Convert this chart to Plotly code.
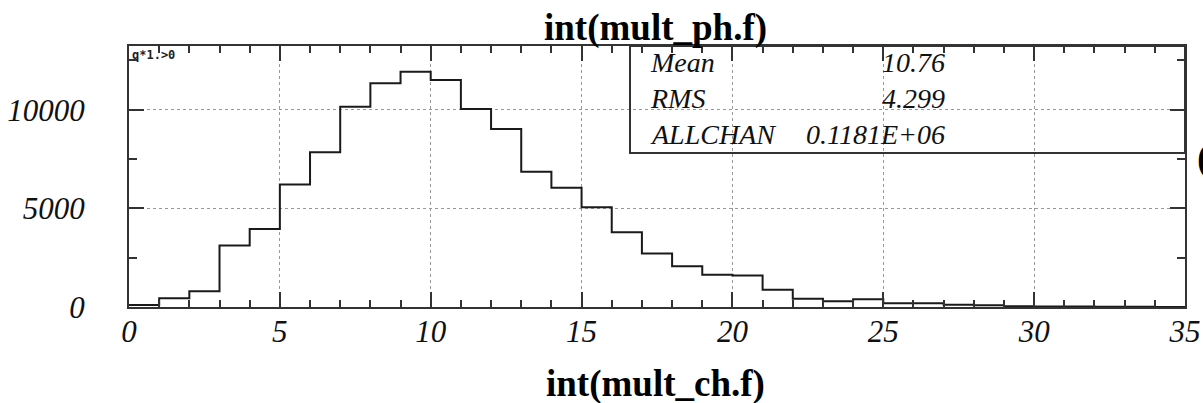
import plotly.graph_objects as go

# ---- data ----
bin_edges = list(range(0, 36))
counts = [100, 440, 800, 3120, 3960, 6210, 7840, 10150, 11340, 11930,
          11510, 10040, 9020, 6850, 6040, 5050, 3790, 2710, 2070, 1640,
          1600, 880, 420, 290, 390, 190, 190, 120, 85, 40,
          30, 20, 15, 10, 5]
x_ticks = [0, 5, 10, 15, 20, 25, 30, 35]
y_ticks = [0, 5000, 10000]
stat_names = ["Mean", "RMS", "ALLCHAN"]
stat_values = ["10.76", "4.299", "0.1181E+06"]
title_text = "int(mult_ph.f)"
xtitle_text = "int(mult_ch.f)"
cut_text = "q*1.>0"
edge_glyph = "("

# ---- geometry (page pixels) ----
PW, PH = 1203, 403
L, R, T, B = 129, 1185, 46, 306.7
XMAX, YMAX = 35, 13230
def px(x):
    return (x - L) / (R - L)
def py(y):
    return (B - y) / (B - T)

step_y = counts + [counts[-1]]

fig = go.Figure()
fig.add_trace(go.Scatter(
    x=bin_edges, y=step_y, mode="lines", line_shape="hv",
    line=dict(color="#1a1a1a", width=2), showlegend=False, hoverinfo="skip"))

tickfont = dict(family="Liberation Serif", size=31, color="#111", style="italic")
axcommon = dict(showline=True, linewidth=2, linecolor="#333", mirror="ticks",
                ticks="inside", tickcolor="#333", tickwidth=1.5, ticklen=15,
                showgrid=True, gridcolor="#999", griddash="dot", gridwidth=1,
                zeroline=False, tickfont=tickfont, automargin=False)

fig.update_xaxes(range=[0, XMAX], tickmode="array", tickvals=x_ticks,
                 ticktext=[str(v) for v in x_ticks],
                 minor=dict(dtick=1, tick0=0, ticks="inside", ticklen=7,
                            tickcolor="#333", tickwidth=1.5, showgrid=False),
                 ticklabelstandoff=-4, **axcommon)
fig.update_yaxes(range=[0, YMAX], tickmode="array", tickvals=y_ticks,
                 ticktext=[str(v) for v in y_ticks],
                 minor=dict(dtick=2500, tick0=0, ticks="inside", ticklen=8,
                            tickcolor="#333", tickwidth=1.5, showgrid=False),
                 ticklabelstandoff=36, **axcommon)

# stats box
fig.add_shape(type="rect", xref="paper", yref="paper",
              x0=px(630), x1=px(1185), y0=py(153), y1=py(46),
              line=dict(color="#333", width=2), fillcolor="rgba(0,0,0,0)")

statfont = dict(family="Liberation Serif", size=28, color="#111", style="italic")
row_y = [62, 98, 134]
for name, val, yy in zip(stat_names, stat_values, row_y):
    fig.add_annotation(xref="paper", yref="paper", x=px(648), y=py(yy),
                       text=name, showarrow=False, xanchor="left", yanchor="middle",
                       font=statfont)
    fig.add_annotation(xref="paper", yref="paper", x=px(947), y=py(yy),
                       text=val, showarrow=False, xanchor="right", yanchor="middle",
                       font=statfont)

# titles
fig.add_annotation(xref="paper", yref="paper", x=px(655), y=py(28),
                   text="<b>" + title_text + "</b>", showarrow=False,
                   xanchor="center", yanchor="middle",
                   font=dict(family="Liberation Serif", size=37, color="#000"))
fig.add_annotation(xref="paper", yref="paper", x=px(655), y=py(384),
                   text="<b>" + xtitle_text + "</b>", showarrow=False,
                   xanchor="center", yanchor="middle",
                   font=dict(family="Liberation Serif", size=37, color="#000"))
# small cut text
fig.add_annotation(xref="paper", yref="paper", x=px(130), y=py(46),
                   text="<b>" + cut_text + "</b>", showarrow=False,
                   xanchor="left", yanchor="top",
                   font=dict(family="DejaVu Sans Mono", size=12, color="#222"))
# partially clipped glyph beyond the right edge of the frame
fig.add_annotation(xref="paper", yref="paper", x=px(1195), y=py(157),
                   text="<b>" + edge_glyph + "</b>", showarrow=False,
                   xanchor="left", yanchor="middle",
                   font=dict(family="Liberation Serif", size=40, color="#000"))

fig.update_layout(width=PW, height=PH, autosize=False,
                  margin=dict(l=L, r=PW - R, t=T, b=PH - B, pad=0),
                  plot_bgcolor="white", paper_bgcolor="white", showlegend=False)

fig.write_html("out.html",
               config={"displayModeBar": False},
               post_script="document.body.style.margin='0';"
                           "document.body.style.overflow='hidden';")
